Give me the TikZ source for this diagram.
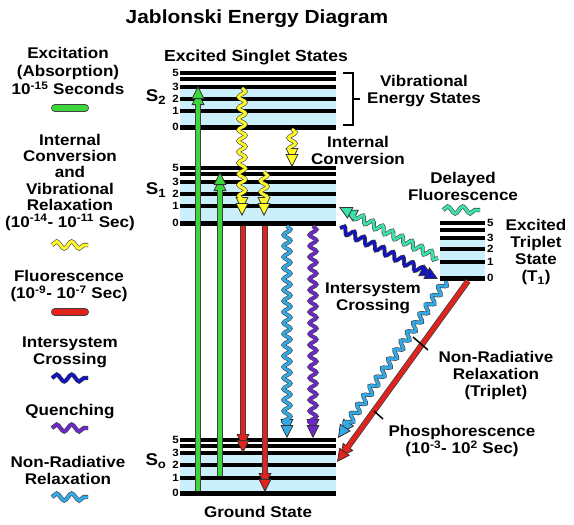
\documentclass[tikz,border=0pt]{standalone}
\usepackage{fontspec}
\setmainfont{Liberation Sans}[FakeStretch=1.1]
\usetikzlibrary{arrows.meta,decorations.pathmorphing}

\definecolor{bandblue}{RGB}{204,240,251}
\definecolor{exgreen}{RGB}{60,215,60}
\definecolor{icyellow}{RGB}{255,250,40}
\definecolor{flred}{RGB}{225,35,30}
\definecolor{iscblue}{RGB}{20,20,190}
\definecolor{qpurple}{RGB}{110,40,200}
\definecolor{nrblue}{RGB}{50,170,230}
\definecolor{dfteal}{RGB}{60,225,170}

\begin{document}
\begin{tikzpicture}[
    x=1pt, y=-1pt,
    level/.style={
        line width=3.4pt
    },
    ground/.style={
        line width=5pt
    },
    band/.style={
        fill=bandblue
    },
    num/.style={
        font=\fontsize{10.5}{10}\selectfont\bfseries,
        inner sep=1pt
    },
    txt/.style={
        font=\fontsize{15.5}{17}\selectfont\bfseries,
        align=center,
        inner sep=0pt
    },
    tip/.style={
        -{Triangle[length=13pt,width=13pt,line width=0.8pt,fill=#1,color=black!80]}
    },
    beam/.style={
        draw=#1,
        line width=4.4pt,
        preaction={draw=black!75, line width=6pt, shorten >=6pt},
        tip=#1
    },
    wave/.style={
        draw=#1,
        line width=2.8pt,
        decorate,
        decoration={snake, amplitude=3.5pt, segment length=11pt, post length=12pt},
        preaction={draw=black!75, line width=4pt, shorten >=6pt},
        tip=#1
    },
    keywave/.style={
        draw=#1,
        line width=3pt,
        decorate,
        decoration={snake, amplitude=3.5pt, segment length=15pt},
        preaction={draw=black!75, line width=4.2pt}
    },
    keybar/.style={
        draw=#1,
        line width=6.5pt,
        line cap=round,
        preaction={draw=black!75, line width=8pt, line cap=round}
    }
]
\useasboundingbox (0,0) rectangle (574,525);

% titles
\node[txt, font=\fontsize{19}{20}\selectfont\bfseries] (title) at (257,19) {Jablonski Energy Diagram};
\node[txt, font=\fontsize{16}{17}\selectfont\bfseries] (ess) at (256,57) {Excited Singlet States};
\node[txt] (gsl) at (258,512) {Ground State};

% bands
\fill[band] (180,87) rectangle (336,127);
\fill[band] (180,182) rectangle (336,223);
\fill[band] (180,453) rectangle (336,493);
\fill[band] (440,238) rectangle (485,278);

% S2 levels
\foreach \y in {73,79,87,99,111}
    \draw[level] (180,\y) -- (336,\y);
\draw[ground] (180,127) -- (336,127);
\foreach \y/\n in {73/5,87/3,99/2,111/1,127/0}
    \node[num, anchor=east] (s2n\n) at (180,\y) {\n};

% S1 levels
\foreach \y in {168,174,182,194,206}
    \draw[level] (180,\y) -- (336,\y);
\draw[ground] (180,223) -- (336,223);
\foreach \y/\n in {168/5,182/3,194/2,206/1,223/0}
    \node[num, anchor=east] (s1n\n) at (180,\y) {\n};

% S0 levels
\foreach \y in {440,446,453,465,478}
    \draw[level] (180,\y) -- (336,\y);
\draw[ground] (180,493) -- (336,493);
\foreach \y/\n in {440/5,453/3,465/2,478/1,493/0}
    \node[num, anchor=east] (s0n\n) at (180,\y) {\n};

% T1 levels
\foreach \y in {223,230,238,249,262}
    \draw[level] (440,\y) -- (485,\y);
\draw[ground] (440,278) -- (485,278);
\foreach \y/\n in {223/5,238/3,249/2,262/1,278/0}
    \node[num, anchor=west] (t1n\n) at (486,\y) {\n};

% state names
\node[txt, font=\fontsize{17}{17}\selectfont\bfseries] (S2) at (156,97) {S\textsubscript{2}};
\node[txt, font=\fontsize{17}{17}\selectfont\bfseries] (S1) at (156,190) {S\textsubscript{1}};
\node[txt, font=\fontsize{17}{17}\selectfont\bfseries] (S0) at (156,461) {S\textsubscript{o}};
\node[txt] (etl) at (536,252) {Excited\\Triplet\\State\\(T\textsubscript{1})};

% bracket
\coordinate (brA) at (343,73);
\coordinate (brB) at (353,73);
\coordinate (brC) at (353,125);
\coordinate (brD) at (343,125);
\coordinate (brE) at (353,99);
\coordinate (brF) at (360,99);
\draw[line width=2pt] (brA) -- (brB) -- (brC) -- (brD);
\draw[line width=2pt] (brE) -- (brF);
\node[txt] (vib) at (424,91) {Vibrational\\Energy States};

% absorption
\coordinate (ab1a) at (198,491);
\coordinate (ab1b) at (198,86);
\coordinate (ab2a) at (220,476);
\coordinate (ab2b) at (220,172);
\draw[beam=exgreen] (ab1a) -- (ab1b);
\draw[beam=exgreen] (ab2a) -- (ab2b);

% internal conversion and vibrational relaxation
\coordinate (ic1a) at (242,88);
\coordinate (ic1b) at (242,216);
\coordinate (ic2a) at (264,172);
\coordinate (ic2b) at (264,216);
\coordinate (ic3a) at (292,129);
\coordinate (ic3b) at (292,167);
\draw[wave=icyellow] (ic1a) -- (ic1b);
\draw[wave=icyellow] (ic2a) -- (ic2b);
\draw[wave=icyellow] (ic3a) -- (ic3b);
\node[txt] (icl) at (358,150) {Internal\\Conversion};

% fluorescence
\coordinate (fl1a) at (243,226);
\coordinate (fl1b) at (243,453);
\coordinate (fl2a) at (265,226);
\coordinate (fl2b) at (265,492);
\draw[beam=flred] (fl1a) -- (fl1b);
\draw[beam=flred] (fl2a) -- (fl2b);

% non-radiative relaxation and quenching
\coordinate (nr1a) at (287,226);
\coordinate (nr1b) at (287,438);
\coordinate (qa) at (313,226);
\coordinate (qb) at (313,438);
\draw[wave=nrblue] (nr1a) -- (nr1b);
\draw[wave=qpurple] (qa) -- (qb);

% delayed fluorescence and intersystem crossing
\coordinate (dfa) at (438,258);
\coordinate (dfb) at (339,207);
\coordinate (isca) at (340,228);
\coordinate (iscb) at (438,279);
\draw[wave=dfteal] (dfa) -- (dfb);
\draw[wave=iscblue] (isca) -- (iscb);
\node[txt] (dfl) at (463,186) {Delayed\\Fluorescence};
\coordinate (dfka) at (443,210);
\coordinate (dfkb) at (480,210);
\draw[keywave=dfteal] (dfka) -- (dfkb);
\node[txt] (iscl) at (373,298) {Intersystem\\Crossing};

% triplet relaxation and phosphorescence
\coordinate (nr2a) at (446,281);
\coordinate (nr2b) at (338,438);
\coordinate (pha) at (468,281);
\coordinate (phb) at (337,462);
\draw[wave=nrblue] (nr2a) -- (nr2b);
\draw[beam=flred] (pha) -- (phb);
\coordinate (nrtka) at (413,337);
\coordinate (nrtkb) at (428,350);
\draw[line width=1.5pt] (nrtka) -- (nrtkb);
\node[txt] (nrtl) at (496,375) {Non-Radiative\\Relaxation\\(Triplet)};
\coordinate (phka) at (374,411);
\coordinate (phkb) at (383,419);
\draw[line width=1.5pt] (phka) -- (phkb);
\node[txt] (phl) at (462,441) {Phosphorescence\\(10\textsuperscript{-3}- 10\textsuperscript{2} Sec)};

% key
\node[txt, font=\fontsize{15.5}{18}\selectfont\bfseries] (keyEx) at (68,71) {Excitation\\(Absorption)\\10\textsuperscript{-15} Seconds};
\coordinate (keyExa) at (55,108);
\coordinate (keyExb) at (85,108);
\draw[keybar=exgreen] (keyExa) -- (keyExb);

\node[txt, font=\fontsize{15.5}{16.4}\selectfont\bfseries] (keyIC) at (70,182) {Internal\\Conversion\\and\\Vibrational\\Relaxation\\(10\textsuperscript{-14}- 10\textsuperscript{-11} Sec)};
\coordinate (keyICa) at (52,245);
\coordinate (keyICb) at (88,245);
\draw[keywave=icyellow] (keyICa) -- (keyICb);

\node[txt] (keyFl) at (69,286) {Fluorescence\\(10\textsuperscript{-9}- 10\textsuperscript{-7} Sec)};
\coordinate (keyFla) at (55,312);
\coordinate (keyFlb) at (85,312);
\draw[keybar=flred] (keyFla) -- (keyFlb);

\node[txt] (keyISC) at (70,352) {Intersystem\\Crossing};
\coordinate (keyISCa) at (52,378);
\coordinate (keyISCb) at (88,378);
\draw[keywave=iscblue] (keyISCa) -- (keyISCb);

\node[txt] (keyQ) at (70,412) {Quenching};
\coordinate (keyQa) at (52,428);
\coordinate (keyQb) at (88,428);
\draw[keywave=qpurple] (keyQa) -- (keyQb);

\node[txt] (keyNR) at (68,470) {Non-Radiative\\Relaxation};
\coordinate (keyNRa) at (52,497);
\coordinate (keyNRb) at (88,497);
\draw[keywave=nrblue] (keyNRa) -- (keyNRb);

\end{tikzpicture}
\end{document}
